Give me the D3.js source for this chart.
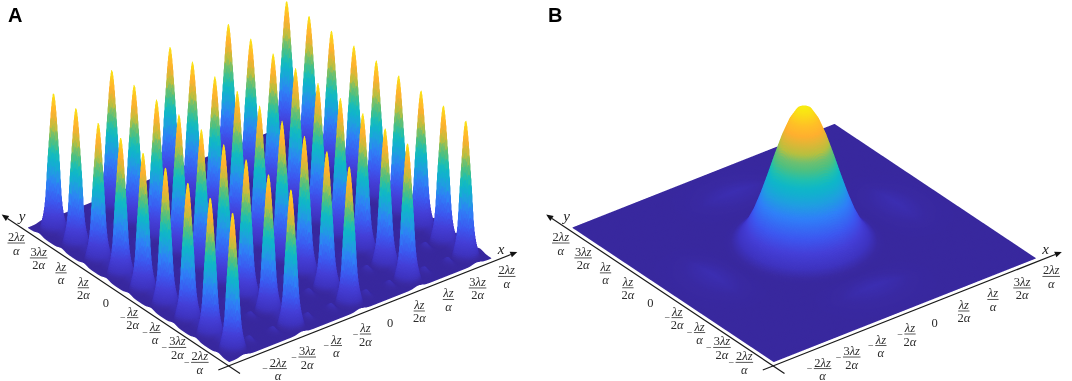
<!DOCTYPE html>
<html>
<head>
<meta charset="utf-8">
<script src="https://cdn.jsdelivr.net/npm/d3@7"></script>
<style>
  html, body { margin: 0; padding: 0; background: #fff; }
  body { position: relative; width: 1072px; height: 381px; overflow: hidden; }
  canvas, svg { position: absolute; left: 0; top: 0; }
  canvas { width: 1072px; height: 381px; filter: blur(0.3px); }
</style>
</head>
<body>
<script>
// Peak lattice of panel A, in units of lambda*z/alpha
const peakXA = [-2, -1, 0, 1, 2];
const peakYA = [-2, -1.5, -1, -0.5, 0, 0.5, 1, 1.5, 2];
// One row per y, one value per x
const peakHeightsA = [
    [1, 1, 1, 1, 1], [1, 1, 1, 1, 1], [1, 1, 1, 1, 1],
    [1, 1, 1, 1, 1], [1, 1, 1, 1, 1], [1, 1, 1, 1, 1],
    [1, 1, 1, 1, 1], [1, 1, 1, 1, 1], [1, 1, 1, 1, 1]
];

// Panel B has the single central peak
const peakXB = [0];
const peakYB = [0];
const peakHeightsB = [[1]];

// Main lobe of one peak (distance from the centre, relative height)
const mainOffsetA = [0, 0.01, 0.02, 0.035, 0.05, 0.065, 0.08, 0.092, 0.105, 0.12, 0.138, 0.165, 0.195];
const mainHeightA = [1, 0.975, 0.93, 0.84, 0.72, 0.6, 0.48, 0.36, 0.24, 0.16, 0.1, 0.04, 0];
const mainOffsetB = [0, 0.1, 0.2, 0.3, 0.4, 0.5, 0.6, 0.7, 0.8, 0.9, 1.0, 1.1];
const mainHeightB = [1, 0.973, 0.896, 0.778, 0.634, 0.48, 0.334, 0.207, 0.109, 0.044, 0.0097, 0];

// Faint side lobes along the x and y directions
const lobeOffsetA = [0.2, 0.245, 0.3, 0.35, 0.4];
const lobeHeightA = [0, 0.015, 0.045, 0.015, 0];
const lobeOffsetB = [1.1, 1.3, 1.57, 1.85, 2.2];
const lobeHeightB = [0, 0.014, 0.032, 0.014, 0];

// Colour map of the surface
const colorLevels = [0, 0.012, 0.05, 0.13, 0.215, 0.334, 0.42, 0.48, 0.52, 0.57, 0.634, 0.68, 0.73, 0.84, 0.9, 1];
const colorValues = ["#3a2a9f", "#3b2ba3", "#3f34c0", "#4540d8", "#3d58f0", "#3080f8", "#20a0e0", "#14b0d0", "#10b8c8", "#20c0b0", "#50c080", "#70c070", "#b8c040", "#ffb030", "#ffc028", "#f8f010"];

// Axis ticks
const tickValues = [-2, -1.5, -1, -0.5, 0, 0.5, 1, 1.5, 2];
const tickNumerators = ["2", "3", "", "", "0", "", "", "3", "2"];
const tickDenominators = ["", "2", "", "2", "", "2", "", "2", ""];

const panels = [
    { letter: "A", letterX: 8, dx: 0, peakX: peakXA, peakY: peakYA, heights: peakHeightsA,
      mainOffset: mainOffsetA, mainHeight: mainHeightA, lobeOffset: lobeOffsetA, lobeHeight: lobeHeightA, cells: 520 },
    { letter: "B", letterX: 548, dx: 544.5, peakX: peakXB, peakY: peakYB, heights: peakHeightsB,
      mainOffset: mainOffsetB, mainHeight: mainHeightB, lobeOffset: lobeOffsetB, lobeHeight: lobeHeightB, cells: 360 }
];

const extent = 2.245;
const peakPixels = 137;
const front = [229.3, 361.7], left = [28.3, 227.7], right = [491, 258.3];

const W = 1072, H = 381;
const SS = 2; // the surface is drawn at twice the size and scaled down
const canvas = d3.select("body").append("canvas").attr("width", W * SS).attr("height", H * SS).node();
const ctx = canvas.getContext("2d");
ctx.scale(SS, SS);
const svg = d3.select("body").append("svg").attr("width", W).attr("height", H);

const colorScale = d3.scaleLinear().domain(colorLevels).range(colorValues).clamp(true);
const zScale = d3.scaleLinear().domain([0, 1]).range([0, peakPixels]);

// Colours are looked up a lot, so keep them in a table
const colorTable = d3.range(1024).map(k => colorScale(k / 1023));

function drawSurface(p) {
    const n = p.cells;
    const grid = d3.scaleLinear().domain([0, n]).range([-extent, extent]);
    const main = d3.scaleLinear().domain(p.mainOffset).range(p.mainHeight).clamp(true);
    const lobe = d3.scaleLinear().domain(p.lobeOffset).range(p.lobeHeight).clamp(true);
    const reach = p.mainOffset[p.mainOffset.length - 1];

    const xToSx = d3.scaleLinear().domain([-extent, extent]).range([0, right[0] - front[0]]);
    const xToSy = d3.scaleLinear().domain([-extent, extent]).range([0, right[1] - front[1]]);
    const yToSx = d3.scaleLinear().domain([-extent, extent]).range([0, left[0] - front[0]]);
    const yToSy = d3.scaleLinear().domain([-extent, extent]).range([0, left[1] - front[1]]);

    const coords = d3.range(n + 1).map(d => grid(d));
    const dx = coords.map(x => p.peakX.map(c => Math.abs(x - c)));
    const dy = coords.map(y => p.peakY.map(c => Math.abs(y - c)));
    const mx = dx.map(row => row.map(d => main(d)));
    const my = dy.map(row => row.map(d => main(d)));
    const lx = dx.map(row => row.map(d => lobe(d)));
    const ly = dy.map(row => row.map(d => lobe(d)));

    const sxx = coords.map(d => xToSx(d)), sxy = coords.map(d => xToSy(d));
    const syx = coords.map(d => yToSx(d)), syy = coords.map(d => yToSy(d));

    const z = coords.map((_, i) => coords.map((_, j) => {
        let sum = 0;
        for (let b = 0; b < p.peakY.length; b++) {
            for (let a = 0; a < p.peakX.length; a++) {
                const h = p.heights[b][a];
                const r2 = dx[i][a] * dx[i][a] + dy[j][b] * dy[j][b];
                if (r2 < reach * reach) sum += h * main(Math.sqrt(r2));
                sum += h * (lx[i][a] * my[j][b] + mx[i][a] * ly[j][b]);
            }
        }
        return sum;
    }));

    const sx = (i, j) => front[0] + p.dx + sxx[i] + syx[j];
    const sy = (i, j) => front[1] + sxy[i] + syy[j] - zScale(z[i][j]);

    // Stroke wide enough to close the seams, else what lies behind shows through
    ctx.lineWidth = 0.6;
    ctx.lineJoin = "round";
    // back corner first, front corner last
    for (let i = n - 1; i >= 0; i--) {
        for (let j = n - 1; j >= 0; j--) {
            const mean = (z[i][j] + z[i + 1][j] + z[i + 1][j + 1] + z[i][j + 1]) / 4;
            const c = colorTable[Math.min(1023, Math.round(mean * 1023))];
            ctx.fillStyle = c;
            ctx.strokeStyle = c;
            ctx.beginPath();
            ctx.moveTo(sx(i, j), sy(i, j));
            ctx.lineTo(sx(i + 1, j), sy(i + 1, j));
            ctx.lineTo(sx(i + 1, j + 1), sy(i + 1, j + 1));
            ctx.lineTo(sx(i, j + 1), sy(i, j + 1));
            ctx.closePath();
            ctx.fill();
            ctx.stroke();
        }
    }
}

// Stacked fraction: minus sign, numerator, bar, denominator
function drawFraction(g, cx, cy, value, k) {
    const font = "'Liberation Serif', serif";
    const ink = "#2b2b2b";
    if (value === 0) {
        g.append("text").attr("x", cx).attr("y", cy + 4).attr("text-anchor", "middle")
         .attr("font-family", font).attr("font-size", 12.5).attr("fill", ink).text("0");
        return;
    }
    const shift = value < 0 ? 4.5 : 0;
    const num = g.append("text").attr("x", cx + shift).attr("y", cy - 2).attr("text-anchor", "middle")
        .attr("font-family", font).attr("font-size", 12.5).attr("fill", ink);
    num.append("tspan").text(tickNumerators[k]);
    num.append("tspan").attr("font-style", "italic").text("λz");

    const den = g.append("text").attr("x", cx + shift).attr("y", cy + 11.5).attr("text-anchor", "middle")
        .attr("font-family", font).attr("font-size", 12.5).attr("fill", ink);
    den.append("tspan").text(tickDenominators[k]);
    den.append("tspan").attr("font-style", "italic").text("α");

    const barWidth = num.node().getComputedTextLength() + 1;
    g.append("line")
     .attr("x1", cx + shift - barWidth / 2).attr("x2", cx + shift + barWidth / 2)
     .attr("y1", cy).attr("y2", cy)
     .attr("stroke", ink).attr("stroke-width", 0.8);

    if (value < 0) {
        g.append("text").attr("x", cx + shift - barWidth / 2 - 1.5).attr("y", cy + 3.5).attr("text-anchor", "end")
         .attr("font-family", font).attr("font-size", 10).attr("fill", ink).text("−");
    }
}

function drawArrow(g, x1, y1, x2, y2) {
    const len = Math.hypot(x2 - x1, y2 - y1);
    const ux = (x2 - x1) / len, uy = (y2 - y1) / len;
    const bx = x2 - ux * 7, by = y2 - uy * 7;
    g.append("line").attr("x1", x1).attr("y1", y1).attr("x2", bx).attr("y2", by)
     .attr("stroke", "#1a1a1a").attr("stroke-width", 1.2);
    const tri = d3.path();
    tri.moveTo(x2, y2);
    tri.lineTo(bx - uy * 3, by + ux * 3);
    tri.lineTo(bx + uy * 3, by - ux * 3);
    tri.closePath();
    g.append("path").attr("d", tri.toString()).attr("fill", "#111");
}

function drawAxes(p) {
    const g = svg.append("g").attr("transform", `translate(${p.dx},0)`);

    const xEdgeX = d3.scaleLinear().domain([-extent, extent]).range([front[0], right[0]]);
    const xEdgeY = d3.scaleLinear().domain([-extent, extent]).range([front[1], right[1]]);
    const yEdgeX = d3.scaleLinear().domain([-extent, extent]).range([front[0], left[0]]);
    const yEdgeY = d3.scaleLinear().domain([-extent, extent]).range([front[1], left[1]]);

    // Axis lines run just outside the edges of the plane
    drawArrow(g, yEdgeX(-2.484), yEdgeY(-2.484) + 4.6, yEdgeX(2.84), yEdgeY(2.84) + 4.6);
    drawArrow(g, xEdgeX(-2.434), xEdgeY(-2.434) + 4, xEdgeX(2.696), xEdgeY(2.696) + 4);

    const axisName = (name, x, y) => g.append("text").attr("x", x).attr("y", y).attr("text-anchor", "middle")
        .attr("font-family", "'Liberation Serif', serif").attr("font-style", "italic")
        .attr("font-size", 15).attr("fill", "#222").text(name);
    axisName("y", 22, 221);
    axisName("x", 501, 254);

    tickValues.forEach((t, k) => {
        drawFraction(g, xEdgeX(t) + 30, xEdgeY(t) + 12.5, t, k);
        drawFraction(g, yEdgeX(t) - 23, yEdgeY(t) + 8, t, k);
    });

    svg.append("text").attr("x", p.letterX).attr("y", 22)
       .attr("font-family", "'Liberation Sans', sans-serif").attr("font-weight", "bold")
       .attr("font-size", 20).attr("fill", "#000").text(p.letter);
}

panels.forEach(p => {
    drawSurface(p);
    drawAxes(p);
});
</script>
</body>
</html>
